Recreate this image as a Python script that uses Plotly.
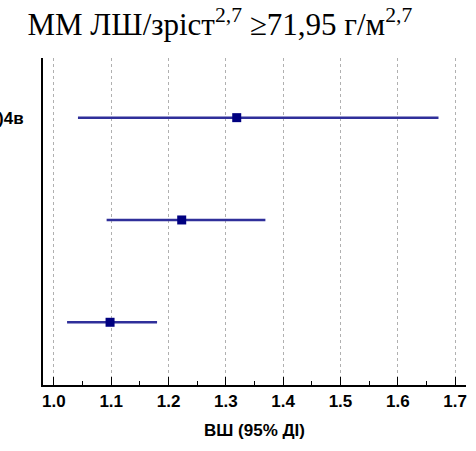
import plotly.graph_objects as go

rows = [3, 2, 1]
row_labels = [")4в", "", ""]
or_values = [1.319, 1.223, 1.098]
ci_low = [1.042, 1.092, 1.023]
ci_high = [1.671, 1.369, 1.180]
x_ticks = [1.0, 1.1, 1.2, 1.3, 1.4, 1.5, 1.6, 1.7]

fig = go.Figure()
lx, ly = [], []
for r, lo, hi in zip(rows, ci_low, ci_high):
    lx += [lo, hi, None]
    ly += [r, r, None]
fig.add_trace(go.Scatter(x=lx, y=ly, mode="lines",
                         line=dict(color="#2f2f9a", width=2.5),
                         showlegend=False, hoverinfo="skip"))
fig.add_trace(go.Scatter(x=or_values, y=rows, mode="markers",
                         marker=dict(symbol="square", size=9, color="#000080"),
                         showlegend=False))

lab_vals = [r for r, t in zip(rows, row_labels) if t]
lab_text = [t for t in row_labels if t]

fig.update_layout(
    width=476, height=451,
    margin=dict(l=43, r=10, t=58, b=66),
    plot_bgcolor="white", paper_bgcolor="white",
    title=dict(text="ММ ЛШ/зріст<sup>2,7</sup> ≥71,95 г/м<sup>2,7</sup>",
               x=0.462, xanchor="center", y=0.946, yanchor="middle",
               font=dict(family="Liberation Serif", size=31, color="black")),
    font=dict(family="Liberation Sans", color="black"),
)
fig.update_xaxes(
    range=[0.981, 1.719], tickvals=x_ticks,
    ticktext=[f"{v:.1f}" for v in x_ticks],
    tickfont=dict(family="Liberation Sans", size=17, weight="bold", color="black"),
    ticks="inside", ticklen=8, tickwidth=1, tickcolor="black",
    minor=dict(ticks="inside", ticklen=4, dtick=0.05, tick0=1.0, tickcolor="black", showgrid=False),
    showline=True, linecolor="black", linewidth=2,
    showgrid=True, gridcolor="#b0b0b0", griddash="dot", gridwidth=1,
    zeroline=False,
    title=dict(text="ВШ (95% ДІ)", standoff=14,
               font=dict(family="Liberation Sans", size=17, weight="bold", color="black")),
)
fig.update_yaxes(
    range=[0.387, 3.583], tickvals=lab_vals, ticktext=lab_text,
    tickfont=dict(family="Liberation Sans", size=17, weight="bold", color="black"),
    ticks="", showline=True, linecolor="black", linewidth=2,
    showgrid=False, zeroline=False, automargin=False, ticklabelstandoff=14,
)

fig.write_html("out.html")
